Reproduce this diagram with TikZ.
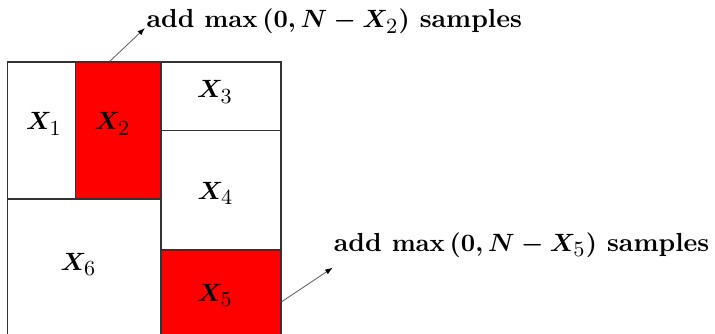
\documentclass[tikz,border=0pt]{standalone}
\usepackage{amsmath}
\usetikzlibrary{fit,calc,arrows.meta}
\DeclareMathSizes{10.3}{10.3}{8.6}{6.5}
\DeclareMathSizes{10.45}{10.45}{8.7}{6.6}
\newcommand\Xs[1]{X_{\textnormal{#1}}}
\begin{document}
\begin{tikzpicture}[x=0.4pt,y=-0.4pt,
  cell/.style={draw=black!80,line width=0.5pt,inner sep=0pt,rectangle},
  hot/.style={cell,fill=red},
  lab/.style={inner sep=0pt,font=\fontsize{10.3}{12.4}\selectfont\boldmath},
  note/.style={inner sep=0pt,anchor=base west,font=\fontsize{10.45}{12.6}\selectfont\bfseries\boldmath},
  conn/.style={draw=black!60,line width=0.35pt,-{Latex[length=3pt,width=2.2pt,color=black]}}]
\clip (0,0) rectangle (715,334);
\node[cell,fit={(7.5,62) (75.7,199)}] (c1) {};
\node[hot,fit={(75.7,62) (161,199)}] (c2) {};
\node[cell,fit={(161,62) (281,130.5)}] (c3) {};
\node[cell,fit={(161,130.5) (281,250)}] (c4) {};
\node[hot,fit={(161,250) (281,336)}] (c5) {};
\node[cell,fit={(7.5,199) (161,336)}] (c6) {};
\node[lab] (l1) at (44,124) {$\Xs{1}$};
\node[lab] (l2) at (112.5,124) {$\Xs{2}$};
\node[lab] (l3) at (215,92) {$\Xs{3}$};
\node[lab] (l4) at (215.5,193.5) {$\Xs{4}$};
\node[lab] (l5) at (215,295.5) {$\Xs{5}$};
\node[lab] (l6) at (78.5,264.5) {$\Xs{6}$};
\node[note] (t1) at (146,27.5) {add $\max\left(0,N-\Xs{2}\right)$ samples};
\node[note] (t2) at (333.3,251) {add $\max\left(0,N-\Xs{5}\right)$ samples};
\coordinate (e1) at ($(t1.base west)+(-1,0.5)$);
\coordinate (e2) at ($(t2.base west)+(-0.6,16.7)$);
\draw[conn] ($(c2.north west)!0.4!(c2.north east)$) -- (e1);
\draw[conn] ($(c5.north east)!0.6!(c5.south east)$) -- (e2);
\end{tikzpicture}
\end{document}
